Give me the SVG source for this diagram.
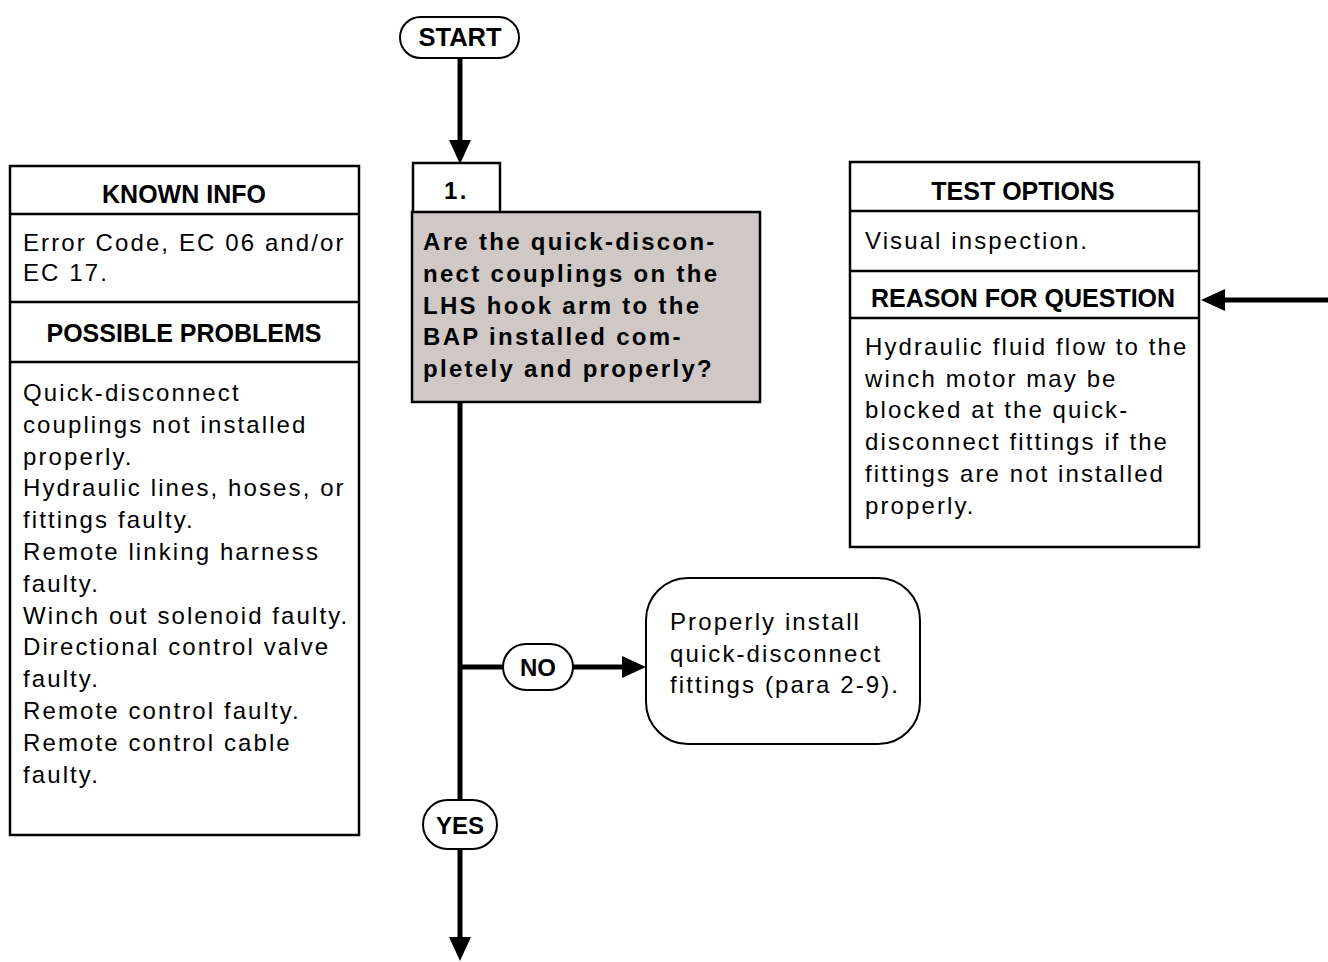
<svg xmlns="http://www.w3.org/2000/svg" width="1328" height="962" viewBox="0 0 1328 962">
<defs>
<style>
.box{fill:#fff;stroke:#000;stroke-width:2.5}
.sep{stroke:#000;stroke-width:2.5}
.gray{fill:#cfc8c7;stroke:#000;stroke-width:2.5}
.pill{fill:#fff;stroke:#000;stroke-width:2}
.conn{stroke:#000;stroke-width:5;fill:none}
.hdr{font-family:"Liberation Sans",Arial,sans-serif;font-weight:bold;font-size:25px;text-anchor:middle;fill:#000}
.body{font-family:"Liberation Sans",Arial,sans-serif;font-size:24px;letter-spacing:2.1px;fill:#000}
.q{font-family:"Liberation Sans",Arial,sans-serif;font-weight:bold;font-size:24px;letter-spacing:2.3px;fill:#000}
.lbl{font-family:"Liberation Sans",Arial,sans-serif;font-weight:bold;font-size:24px;text-anchor:middle;fill:#000}
</style>
<marker id="ah" markerUnits="userSpaceOnUse" markerWidth="26" markerHeight="24" refX="0" refY="11" orient="auto">
<path d="M0,0 L24,11 L0,22 z" fill="#000"/>
</marker>
</defs>
<rect width="1328" height="962" fill="#fff"/>

<g id="connectors">
<line class="conn" x1="460" y1="57" x2="460" y2="140" marker-end="url(#ah)"/>
<line class="conn" x1="460" y1="402" x2="460" y2="800"/>
<line class="conn" x1="460" y1="667" x2="503" y2="667"/>
<line class="conn" x1="573" y1="667" x2="622" y2="667" marker-end="url(#ah)"/>
<line class="conn" x1="460" y1="849" x2="460" y2="937" marker-end="url(#ah)"/>
<line class="conn" x1="1328" y1="300" x2="1225" y2="300" marker-end="url(#ah)"/>
</g>

<g id="start">
<rect class="pill" x="400" y="17" width="119" height="41" rx="20.5"/>
<text class="lbl" x="460" y="46" style="font-size:25.5px">START</text>
</g>

<g id="known-info">
<rect class="box" x="10" y="166" width="349" height="669"/>
<line class="sep" x1="10" y1="214" x2="359" y2="214"/>
<line class="sep" x1="10" y1="302" x2="359" y2="302"/>
<line class="sep" x1="10" y1="362" x2="359" y2="362"/>
<text class="hdr" x="184" y="203">KNOWN INFO</text>
<text class="body" x="23" y="251">Error Code, EC 06 and/or</text>
<text class="body" x="23" y="281">EC 17.</text>
<text class="hdr" x="184" y="342">POSSIBLE PROBLEMS</text>
<text class="body" x="23" y="401">Quick-disconnect</text>
<text class="body" x="23" y="432.8">couplings not installed</text>
<text class="body" x="23" y="464.6">properly.</text>
<text class="body" x="23" y="496.4">Hydraulic lines, hoses, or</text>
<text class="body" x="23" y="528.2">fittings faulty.</text>
<text class="body" x="23" y="560">Remote linking harness</text>
<text class="body" x="23" y="591.8">faulty.</text>
<text class="body" x="23" y="623.6">Winch out solenoid faulty.</text>
<text class="body" x="23" y="655.4">Directional control valve</text>
<text class="body" x="23" y="687.2">faulty.</text>
<text class="body" x="23" y="719">Remote control faulty.</text>
<text class="body" x="23" y="750.8">Remote control cable</text>
<text class="body" x="23" y="782.6">faulty.</text>
</g>

<g id="step1">
<rect class="box" x="413" y="163" width="87" height="50"/>
<text class="q" x="444" y="199">1.</text>
<rect class="gray" x="412" y="212" width="348" height="190"/>
<text class="q" x="423" y="250">Are the quick-discon-</text>
<text class="q" x="423" y="281.8">nect couplings on the</text>
<text class="q" x="423" y="313.6">LHS hook arm to the</text>
<text class="q" x="423" y="345.4">BAP installed com-</text>
<text class="q" x="423" y="377.2">pletely and properly?</text>
</g>

<g id="test-options">
<rect class="box" x="850" y="162" width="349" height="385"/>
<line class="sep" x1="850" y1="211" x2="1199" y2="211"/>
<line class="sep" x1="850" y1="271" x2="1199" y2="271"/>
<line class="sep" x1="850" y1="318" x2="1199" y2="318"/>
<text class="hdr" x="1023" y="200">TEST OPTIONS</text>
<text class="body" x="865" y="249">Visual inspection.</text>
<text class="hdr" x="1023" y="307">REASON FOR QUESTION</text>
<text class="body" x="865" y="355">Hydraulic fluid flow to the</text>
<text class="body" x="865" y="386.7">winch motor may be</text>
<text class="body" x="865" y="418.4">blocked at the quick-</text>
<text class="body" x="865" y="450.1">disconnect fittings if the</text>
<text class="body" x="865" y="481.8">fittings are not installed</text>
<text class="body" x="865" y="513.5">properly.</text>
</g>

<g id="no-label">
<rect class="pill" x="503" y="644" width="70" height="46" rx="23"/>
<text class="lbl" x="538" y="676">NO</text>
</g>

<g id="action-install">
<rect class="box" x="646" y="578" width="274" height="166" rx="42" style="stroke-width:2"/>
<text class="body" x="670" y="630">Properly install</text>
<text class="body" x="670" y="662">quick-disconnect</text>
<text class="body" x="670" y="693">fittings (para 2-9).</text>
</g>

<g id="yes-label">
<rect class="pill" x="423" y="800" width="74" height="49" rx="24.5"/>
<text class="lbl" x="460" y="834">YES</text>
</g>
</svg>
